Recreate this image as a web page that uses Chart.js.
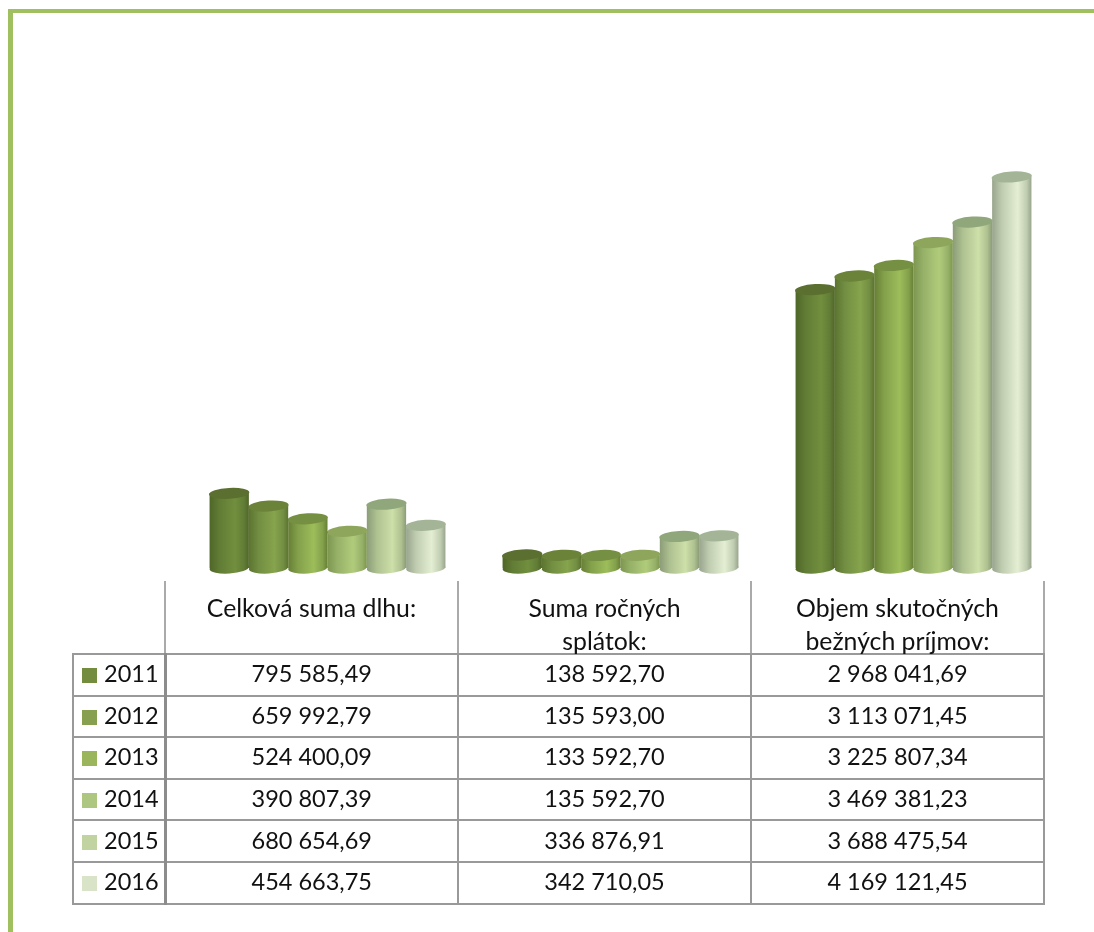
<!DOCTYPE html>
<html lang="sk">
<head>
<meta charset="utf-8">
<title>Dlh a príjmy</title>
<script src="https://cdn.jsdelivr.net/npm/chart.js@4"></script>
<style>
  html, body { margin: 0; padding: 0; background: #fff; }
  body { width: 1094px; height: 932px; position: relative; overflow: hidden; font-family: Lato, "Open Sans", sans-serif; color: #111; }
  #frameTop { position: absolute; left: 8px; top: 9px; right: 0; height: 4px; background: #a0bf5f; }
  #frameLeft { position: absolute; left: 8px; top: 9px; bottom: 0; width: 5px; background: #a0bf5f; }
  #chart { position: absolute; left: 0; top: 0; }
  #dataTable { position: absolute; left: 72px; top: 581px; width: 971px; border-collapse: collapse; table-layout: fixed; font-size: 23.5px; }
  #dataTable th, #dataTable td { padding: 0; text-align: center; font-weight: 400; border: 2px solid #999; }
  #dataTable thead th { height: 73px; box-sizing: border-box; border-top: none; vertical-align: top; border-left-color: #aaa; border-right-color: #aaa; }
  #dataTable thead th:first-child { border-top: none; border-left: none; }
  #dataTable thead th.name { padding: 10px 30px 0; font-size: 24.8px; line-height: 33px; }
  #dataTable thead th.name div { height: 60px; }
  #dataTable tbody td { height: 36.6px; line-height: 36px; padding-bottom: 3px; box-sizing: content-box; }
  #dataTable tbody td.year { text-align: left; border-right: 3px solid #8c8c8c; white-space: nowrap; }
  .swatch { display: inline-block; width: 15px; height: 15px; margin: 0 7px 0 8px; vertical-align: -1px; }
</style>
</head>
<body>
<canvas id="chart" width="1094" height="932"></canvas>
<div id="frameTop"></div>
<div id="frameLeft"></div>
<table id="dataTable">
  <colgroup><col style="width:92px"><col style="width:293px"><col style="width:293px"><col style="width:293px"></colgroup>
  <thead id="tableHead"></thead>
  <tbody id="tableBody"></tbody>
</table>
<script>
const categories = ["Celková suma dlhu:", "Suma ročných splátok:", "Objem skutočných bežných príjmov:"];
const years = ["2011", "2012", "2013", "2014", "2015", "2016"];
const values2011 = [795585.49, 138592.70, 2968041.69];
const values2012 = [659992.79, 135593.00, 3113071.45];
const values2013 = [524400.09, 133592.70, 3225807.34];
const values2014 = [390807.39, 135592.70, 3469381.23];
const values2015 = [680654.69, 336876.91, 3688475.54];
const values2016 = [454663.75, 342710.05, 4169121.45];
const allValues = [values2011, values2012, values2013, values2014, values2015, values2016];

const swatchColors = ["#738c3e", "#87a04f", "#9bb55c", "#adc680", "#c1d3a0", "#d8e3c7"];
const edgeColors = ["#4f6627", "#5c7430", "#667f35", "#7d9650", "#8b9c78", "#98a48c"];
const bodyColors = ["#718f3e", "#86a34d", "#9dbd5a", "#b0cc7a", "#cde0aa", "#e3eed3"];
const shadeColors = ["#617c35", "#728e42", "#83a04b", "#96b168", "#adc08f", "#c0ccb0"];
const topColors = ["#5b7030", "#6a8339", "#759042", "#8ea65c", "#90a67b", "#a3b596"];

const CAT_PERCENT = 0.805;
const TILT = -0.06;
const TOP_RY = 5.5;

function fmt(n) {
  const [whole, dec] = n.toFixed(2).split(".");
  return whole.replace(/\B(?=(\d{3})+$)/g, " ") + "," + dec;
}

function renderTable() {
  document.getElementById("tableHead").innerHTML =
    "<tr><th></th>" + categories.map((c) => `<th class="name"><div>${c}</div></th>`).join("") + "</tr>";
  document.getElementById("tableBody").innerHTML = years
    .map(
      (y, i) => `<tr>
        <td class="year"><span class="swatch" style="background:${swatchColors[i]}"></span>${y}</td>
        ${allValues[i].map((v) => `<td>${fmt(v)}</td>`).join("")}
      </tr>`
    )
    .join("");
}

function barGradient(context) {
  const { chart, dataIndex, datasetIndex } = context;
  const xScale = chart.scales.x;
  const barW = (xScale.width / categories.length) * CAT_PERCENT / years.length;
  const x0 = xScale.getPixelForValue(dataIndex) + (datasetIndex - years.length / 2) * barW;
  // scale is not laid out on the first option pass
  if (!isFinite(x0) || !isFinite(barW)) return bodyColors[datasetIndex];
  const g = chart.ctx.createLinearGradient(x0, 0, x0 + barW, 0);
  g.addColorStop(0, edgeColors[datasetIndex]);
  g.addColorStop(0.25, shadeColors[datasetIndex]);
  g.addColorStop(0.65, bodyColors[datasetIndex]);
  g.addColorStop(0.88, shadeColors[datasetIndex]);
  g.addColorStop(1, edgeColors[datasetIndex]);
  return g;
}

// Cylinder caps: base and top ellipses on each bar the library placed
const cylinderCaps = {
  id: "cylinderCaps",
  afterDatasetDraw(chart, args) {
    const { ctx } = chart;
    const i = args.index;
    chart.getDatasetMeta(i).data.forEach((bar, j) => {
      ctx.save();
      ctx.fillStyle = barGradient({ chart, dataIndex: j, datasetIndex: i });
      ctx.beginPath();
      ctx.ellipse(bar.x, bar.base, bar.width / 2, TOP_RY, TILT, 0, Math.PI * 2);
      ctx.fill();
      ctx.fillStyle = topColors[i];
      ctx.beginPath();
      ctx.ellipse(bar.x, bar.y, bar.width / 2 + 0.5, TOP_RY, TILT, 0, Math.PI * 2);
      ctx.fill();
      ctx.restore();
    });
  },
};

function renderChart() {
  new Chart(document.getElementById("chart"), {
    type: "bar",
    data: {
      labels: categories,
      datasets: years.map((y, i) => ({
        label: y,
        data: allValues[i],
        backgroundColor: barGradient,
        borderWidth: 0,
        barPercentage: 1,
        categoryPercentage: CAT_PERCENT,
      })),
    },
    options: {
      responsive: false,
      animation: false,
      layout: { padding: { left: 181, right: 34, top: 99, bottom: 364 } },
      scales: {
        x: { display: false },
        y: { display: false, min: 0, max: 5000000 },
      },
      plugins: { legend: { display: false }, tooltip: { enabled: false } },
    },
    plugins: [cylinderCaps],
  });
}

renderTable();
renderChart();
</script>
</body>
</html>
